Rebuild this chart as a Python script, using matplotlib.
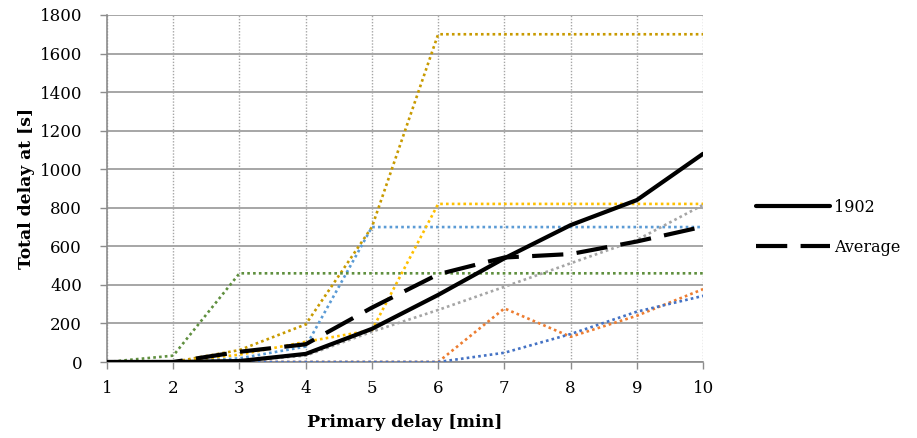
import matplotlib
matplotlib.use("Agg")
import matplotlib.pyplot as plt

x = [1, 2, 3, 4, 5, 6, 7, 8, 9, 10]

s_gold = [0, 0, 62, 195, 700, 1700, 1700, 1700, 1700, 1700]
s_lightblue = [0, 0, 19, 80, 700, 700, 700, 700, 700, 700]
s_green = [0, 33, 460, 460, 460, 460, 460, 460, 460, 460]
s_yellow = [0, 0, 38, 105, 165, 820, 820, 820, 820, 820]
s_gray = [0, 0, 5, 33, 157, 270, 390, 512, 633, 815]
s_orange = [0, 0, 0, 0, 0, 0, 278, 131, 240, 378]
s_darkblue = [0, 0, 0, 0, 0, 0, 48, 145, 261, 343]
s_1902 = [0, 0, 5, 42, 172, 348, 538, 710, 840, 1080]
s_avg = [0, 0, 53, 92, 282, 455, 542, 560, 625, 702]

yticks = [0, 200, 400, 600, 800, 1000, 1200, 1400, 1600, 1800]

plt.rcParams['font.family'] = ['DejaVu Serif']

fig = plt.figure(figsize=(9.17, 4.38), dpi=100)
ax = fig.add_axes([0.1167, 0.1735, 0.650, 0.7923])

dot = (1, 1.2)
colored = [
    (s_gold, '#C89A00'),
    (s_lightblue, '#5B9BD5'),
    (s_green, '#5F8F3E'),
    (s_yellow, '#FFC000'),
    (s_gray, '#A5A5A5'),
    (s_orange, '#ED7D31'),
    (s_darkblue, '#4472C4'),
]
for s, c in colored:
    ax.plot(x, s, color=c, lw=1.9, linestyle=(0, dot), zorder=3)

ax.plot(x, s_avg, color='black', lw=3.0, linestyle=(0, (7.5, 3.2)), label='Average', zorder=4)
ax.plot(x, s_1902, color='black', lw=3.0, label='1902', zorder=5, solid_capstyle='round')

ax.set_xlim(1, 10)
ax.set_ylim(0, 1800)
ax.set_xticks(x)
ax.set_yticks(yticks)

ax.grid(axis='y', color='#A6A6A6', lw=1.4, linestyle='-', zorder=0)
ax.grid(axis='x', color='#A6A6A6', lw=1.0, linestyle=(0, (1, 1.2)), zorder=0)
ax.set_axisbelow(True)

for sp in ['top', 'right']:
    ax.spines[sp].set_visible(False)
for sp in ['left', 'bottom']:
    ax.spines[sp].set_color('#8C8C8C')
    ax.spines[sp].set_linewidth(1.2)

ax.tick_params(axis='both', colors='#8C8C8C', labelcolor='black', labelsize=12, length=5, width=1.0)
ax.tick_params(axis='x', pad=8)
ax.tick_params(axis='y', pad=13)

ax.set_xlabel('Primary delay [min]', fontsize=12.5, fontweight='bold', labelpad=12)
ax.set_ylabel('Total delay at [s]', fontsize=12.3, fontweight='bold', labelpad=3)

handles, labels = ax.get_legend_handles_labels()
order = [labels.index('1902'), labels.index('Average')]
ax.legend([handles[i] for i in order], [labels[i] for i in order],
          loc='center left', bbox_to_anchor=(1.065, 0.388), frameon=False,
          fontsize=11.5, handlelength=4.6, handletextpad=0.3, labelspacing=1.45)

fig.savefig('out.png', dpi=100)
